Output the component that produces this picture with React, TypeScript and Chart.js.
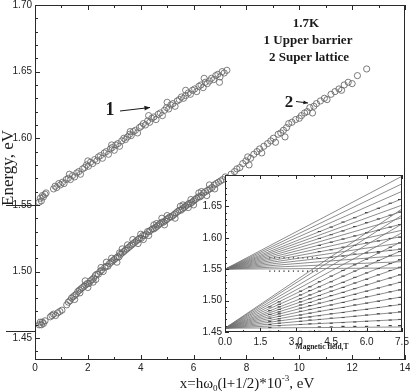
import React, { useEffect, useRef } from 'react';
import { Chart, registerables } from 'chart.js';

Chart.register(...registerables);

const SERIF = '"Liberation Serif", "Times New Roman", serif';
const SANS = '"Liberation Sans", Arial, sans-serif';

// ---------- main plot axes ----------
const mainXTicks = [0, 2, 4, 6, 8, 10, 12, 14];
const mainYTicks = [1.45, 1.5, 1.55, 1.6, 1.65, 1.7];
const mainXMin = 0;
const mainXMax = 14;
const mainYMin = 1.4336;
const mainYMax = 1.7;
const markedLevels = [1.55, 1.455];

// ---------- series 1: Upper barrier ----------
const upperX = [0.15, 0.2, 0.24, 0.28, 0.32, 0.38, 0.42, 0.7, 0.76, 0.82, 0.9, 0.96, 1.04, 1.1, 1.18, 1.26, 1.34, 1.42, 1.5, 1.58, 1.66, 1.72, 1.8, 1.88, 1.95, 2.02, 2.1, 2.18, 2.26, 2.34, 2.4, 2.48, 2.55, 2.62, 2.7, 2.78, 2.85, 2.92, 3.0, 3.06, 3.14, 3.2, 3.28, 3.36, 3.42, 3.5, 3.58, 3.64, 3.72, 3.8, 3.88, 3.95, 4.02, 4.1, 4.18, 4.26, 4.34, 4.42, 4.5, 4.58, 4.66, 4.74, 4.82, 4.9, 4.98, 5.06, 5.14, 5.22, 5.3, 5.38, 5.46, 5.54, 5.62, 5.7, 5.8, 5.88, 5.96, 6.04, 6.12, 6.2, 6.28, 6.36, 6.44, 6.52, 6.6, 6.68, 6.76, 6.84, 6.92, 7.0, 7.08, 7.16, 7.26,
  1.3, 2.0, 2.9, 3.6, 4.3, 5.0, 5.7, 6.4, 6.98];
const upperY = [1.552, 1.555, 1.553, 1.557, 1.556, 1.558, 1.559, 1.562, 1.564, 1.563, 1.566, 1.565, 1.567, 1.566, 1.569, 1.57, 1.569, 1.572, 1.571, 1.574, 1.575, 1.573, 1.577, 1.578, 1.58, 1.579, 1.582, 1.581, 1.584, 1.583, 1.586, 1.587, 1.585, 1.589, 1.59, 1.588, 1.592, 1.593, 1.591, 1.595, 1.596, 1.594, 1.598, 1.6, 1.599, 1.601, 1.603, 1.602, 1.605, 1.606, 1.604, 1.608, 1.609, 1.611, 1.61, 1.613, 1.612, 1.615, 1.616, 1.614, 1.618, 1.619, 1.617, 1.621, 1.623, 1.622, 1.625, 1.626, 1.624, 1.628, 1.629, 1.631, 1.63, 1.632, 1.634, 1.633, 1.636, 1.637, 1.635, 1.639, 1.64, 1.638, 1.642, 1.641, 1.643, 1.645, 1.644, 1.647, 1.648, 1.646, 1.65, 1.649, 1.651,
  1.573, 1.583, 1.595, 1.605, 1.617, 1.627, 1.636, 1.645, 1.642];

// ---------- series 2: Super lattice ----------
const slX = [0.16, 0.2, 0.24, 0.28, 0.32, 0.38, 0.58, 0.64, 0.7, 0.78, 0.86, 0.94, 1.02, 1.2, 1.26, 1.32, 1.38, 1.44, 1.5, 1.56, 1.62, 1.68, 1.74, 1.8, 1.86, 1.92, 1.98, 2.04, 2.1, 2.16, 2.22, 2.28, 2.34, 2.4, 2.46, 2.52, 2.58, 2.64, 2.7, 2.76, 2.82, 2.88, 2.94, 3.0, 3.06, 3.12, 3.18, 3.24, 3.3, 3.36, 3.42, 3.48, 3.54, 3.6, 3.66, 3.72, 3.78, 3.84, 3.9, 3.96, 4.02, 4.08, 4.14, 4.2, 4.26, 4.32, 4.38, 4.44, 4.5, 4.56, 4.62, 4.68, 4.74, 4.8, 4.86, 4.92, 4.98, 5.04, 5.1, 5.16, 5.22, 5.28, 5.34, 5.4, 5.46, 5.52, 5.58, 5.64, 5.7, 5.76, 5.82, 5.88, 5.94, 6.0, 6.06, 6.12, 6.18, 6.24, 6.3, 6.38, 6.46, 6.54, 6.62, 6.7, 6.78, 6.86, 6.94, 7.02, 7.1,
  2.5, 3.2, 3.9, 4.6, 5.3, 5.9, 6.5, 2.2, 3.5, 4.3, 5.0, 6.2, 6.8, 1.7, 2.9, 4.0, 5.6,
  1.9, 2.3, 2.7, 3.1, 3.7, 4.1, 4.5, 4.9, 5.5, 6.0, 6.6, 1.5, 2.0, 3.3, 4.8, 5.8, 6.3,
  7.2, 7.3, 7.42, 7.55, 7.64, 7.75, 7.86, 7.98, 8.05, 8.16, 8.28, 8.4, 8.5, 8.58, 8.66, 8.8, 8.92, 9.02, 9.1, 9.2, 9.3, 9.4, 9.52, 9.6, 9.72, 9.86, 10.0, 10.08, 10.2, 10.3, 10.4, 10.55, 10.65, 10.8, 10.95, 11.05, 11.2, 11.35, 11.5, 11.6, 11.7, 11.85, 12.0, 12.2, 12.55, 8.1, 9.46, 10.5];
const slY = [1.46, 1.462, 1.46, 1.462, 1.461, 1.463, 1.466, 1.467, 1.468, 1.467, 1.469, 1.47, 1.471, 1.475, 1.477, 1.478, 1.48, 1.481, 1.482, 1.483, 1.485, 1.486, 1.487, 1.488, 1.489, 1.49, 1.491, 1.491, 1.493, 1.494, 1.495, 1.497, 1.498, 1.498, 1.5, 1.501, 1.5, 1.503, 1.504, 1.504, 1.506, 1.507, 1.508, 1.509, 1.51, 1.511, 1.511, 1.513, 1.514, 1.515, 1.516, 1.517, 1.518, 1.519, 1.52, 1.521, 1.522, 1.523, 1.524, 1.525, 1.525, 1.527, 1.527, 1.528, 1.53, 1.53, 1.531, 1.532, 1.532, 1.533, 1.534, 1.535, 1.536, 1.537, 1.537, 1.538, 1.539, 1.54, 1.541, 1.541, 1.542, 1.543, 1.544, 1.545, 1.546, 1.546, 1.547, 1.548, 1.549, 1.55, 1.551, 1.551, 1.552, 1.553, 1.554, 1.555, 1.556, 1.556, 1.557, 1.559, 1.56, 1.561, 1.562, 1.563, 1.565, 1.566, 1.567, 1.568, 1.569,
  1.503, 1.514, 1.521, 1.536, 1.54, 1.554, 1.557, 1.492, 1.52, 1.527, 1.542, 1.559, 1.562, 1.484, 1.51, 1.528, 1.55,
  1.493, 1.494, 1.507, 1.507, 1.524, 1.524, 1.535, 1.535, 1.549, 1.55, 1.565, 1.479, 1.488, 1.517, 1.54, 1.548, 1.56,
  1.571, 1.57, 1.573, 1.575, 1.577, 1.578, 1.581, 1.583, 1.586, 1.585, 1.588, 1.59, 1.592, 1.589, 1.594, 1.596, 1.598, 1.6, 1.597, 1.603, 1.604, 1.606, 1.608, 1.611, 1.612, 1.614, 1.615, 1.617, 1.619, 1.62, 1.623, 1.624, 1.626, 1.628, 1.63, 1.629, 1.633, 1.635, 1.637, 1.636, 1.64, 1.642, 1.641, 1.647, 1.652, 1.58, 1.601, 1.619];

// ---------- inset ----------
const insetXTicks = [0, 1.5, 3, 4.5, 6, 7.5];
const insetYTicks = [1.45, 1.5, 1.55, 1.6, 1.65];
const insetXMin = 0;
const insetXMax = 7.5;
const insetYMin = 1.45;
const insetYMax = 1.7;
const upperFanOrigin = 1.55;
const upperFanEnds = [1.552, 1.562, 1.572, 1.582, 1.592, 1.602, 1.612, 1.622, 1.632, 1.642, 1.652, 1.662, 1.674, 1.686, 1.698];
const lowerFanOrigin = 1.456;
const lowerFanEnds = [1.458, 1.47, 1.482, 1.494, 1.506, 1.518, 1.53, 1.542, 1.554, 1.566, 1.58, 1.594, 1.608, 1.622, 1.636, 1.646];
const dotFields = [1.9, 2.3, 3.2, 3.6, 4.0, 4.5, 5.0, 5.5, 6.0, 6.5, 7.0, 7.4];
const dotEnergies = [
  [1.451, 1.457, 1.462, 1.467, 1.472, 1.478, 1.484, 1.49],
  [1.451, 1.46, 1.464, 1.468, 1.471, 1.475, 1.479, 1.482, 1.486, 1.49, 1.494, 1.498],
  [1.451, 1.462, 1.467, 1.472, 1.477, 1.483, 1.488, 1.493, 1.498, 1.503, 1.509, 1.515],
  [1.451, 1.463, 1.469, 1.474, 1.48, 1.486, 1.492, 1.497, 1.503, 1.509, 1.516, 1.522],
  [1.451, 1.458, 1.464, 1.47, 1.476, 1.483, 1.489, 1.496, 1.502, 1.508, 1.515, 1.522, 1.53, 1.567, 1.578, 1.588, 1.599, 1.61],
  [1.451, 1.458, 1.464, 1.472, 1.479, 1.486, 1.493, 1.5, 1.508, 1.515, 1.522, 1.53, 1.539, 1.569, 1.581, 1.593, 1.605, 1.617],
  [1.451, 1.459, 1.465, 1.473, 1.481, 1.489, 1.497, 1.505, 1.513, 1.521, 1.529, 1.539, 1.548, 1.571, 1.585, 1.598, 1.611, 1.625],
  [1.451, 1.459, 1.466, 1.475, 1.484, 1.493, 1.502, 1.51, 1.519, 1.528, 1.537, 1.547, 1.557, 1.574, 1.588, 1.603, 1.618, 1.632],
  [1.451, 1.459, 1.467, 1.477, 1.486, 1.496, 1.506, 1.515, 1.525, 1.534, 1.544, 1.555, 1.566, 1.576, 1.592, 1.608, 1.624, 1.64],
  [1.451, 1.46, 1.468, 1.479, 1.489, 1.499, 1.51, 1.52, 1.531, 1.541, 1.551, 1.564, 1.576, 1.578, 1.595, 1.612, 1.63, 1.647],
  [1.451, 1.46, 1.469, 1.48, 1.492, 1.503, 1.514, 1.525, 1.536, 1.548, 1.559, 1.572, 1.585, 1.58, 1.599, 1.617, 1.636, 1.655],
  [1.451, 1.46, 1.47, 1.482, 1.494, 1.505, 1.517, 1.529, 1.541, 1.553, 1.565, 1.578, 1.592, 1.582, 1.601, 1.621, 1.641, 1.661],
];
const rowFields = [1.9, 2.1, 2.3, 2.5, 2.7, 2.9, 3.1, 3.3, 3.5, 3.7, 3.9];
const rowLevels = [1.568, 1.547];

const pts = (xs: number[], ys: number[]) => xs.map((x, i) => ({ x, y: ys[i] }));

const inkDark = '#1a1a1a';

const mainDeco = {
  id: 'mainDeco',
  afterDraw(chart: any) {
    const { ctx, chartArea: a, scales } = chart;
    const xs = scales.x;
    const ys = scales.y;
    ctx.save();
    ctx.strokeStyle = '#2a2a2a';
    ctx.lineWidth = 1;
    ctx.strokeRect(a.left + 0.5, a.top + 0.5, a.right - a.left - 1, a.bottom - a.top - 1);
    ctx.beginPath();
    for (let k = Math.ceil(mainYMin * 100); k <= Math.round(mainYMax * 100); k++) {
      const major = k % 5 === 0;
      const py = Math.round(ys.getPixelForValue(k / 100)) + 0.5;
      ctx.moveTo(a.left, py);
      ctx.lineTo(a.left + (major ? 5 : 3), py);
    }
    for (let k = mainXMin; k <= mainXMax; k++) {
      const major = mainXTicks.includes(k);
      const px = Math.round(xs.getPixelForValue(k)) + 0.5;
      const len = major ? 5 : 3;
      ctx.moveTo(px, a.bottom);
      ctx.lineTo(px, a.bottom - len);
      ctx.moveTo(px, a.top);
      ctx.lineTo(px, a.top + len);
    }
    markedLevels.forEach((v) => {
      const py = Math.round(ys.getPixelForValue(v)) + 0.5;
      ctx.moveTo(6, py);
      ctx.lineTo(a.left, py);
    });
    ctx.stroke();

    ctx.fillStyle = inkDark;
    ctx.save();
    ctx.translate(9, 168);
    ctx.rotate(-Math.PI / 2);
    ctx.font = `17px ${SERIF}`;
    ctx.textAlign = 'center';
    ctx.textBaseline = 'middle';
    ctx.fillText('Energy, eV', 0, 0);
    ctx.restore();

    const parts: [string, string][] = [['x=hω', 'n'], ['0', 'sub'], ['(l+1/2)*10', 'n'], ['-3', 'sup'], [', eV', 'n']];
    const fontFor = (s: string) => (s === 'n' ? `15px ${SERIF}` : `9px ${SERIF}`);
    let total = 0;
    parts.forEach(([t, s]) => { ctx.font = fontFor(s); total += ctx.measureText(t).width; });
    let cx = 247 - total / 2;
    const base = 388;
    ctx.textAlign = 'left';
    ctx.textBaseline = 'alphabetic';
    parts.forEach(([t, s]) => {
      ctx.font = fontFor(s);
      const dy = s === 'sub' ? 3 : s === 'sup' ? -7 : 0;
      ctx.fillText(t, cx, base + dy);
      cx += ctx.measureText(t).width;
    });

    ctx.textAlign = 'center';
    ctx.textBaseline = 'middle';
    ctx.font = `bold 13px ${SERIF}`;
    ctx.fillText('1.7K', 306, 24);
    ctx.fillText('1 Upper barrier', 308, 41);
    ctx.fillText('2 Super lattice', 309, 58);

    ctx.font = `bold 18px ${SERIF}`;
    ctx.fillText('1', 110, 110);
    ctx.font = `bold 17px ${SERIF}`;
    ctx.fillText('2', 289, 103);

    const arrow = (x1: number, y1: number, x2: number, y2: number, head: number) => {
      ctx.beginPath();
      ctx.moveTo(x1, y1);
      ctx.lineTo(x2, y2);
      ctx.lineWidth = 1;
      ctx.strokeStyle = inkDark;
      ctx.stroke();
      const ang = Math.atan2(y2 - y1, x2 - x1);
      ctx.beginPath();
      ctx.moveTo(x2, y2);
      ctx.lineTo(x2 - head * Math.cos(ang - 0.4), y2 - head * Math.sin(ang - 0.4));
      ctx.lineTo(x2 - head * Math.cos(ang + 0.4), y2 - head * Math.sin(ang + 0.4));
      ctx.closePath();
      ctx.fill();
    };
    arrow(120, 111, 150, 107.5, 6);
    arrow(296, 101.5, 308, 103, 5);
    ctx.restore();
  },
};

const insetDeco = {
  id: 'insetDeco',
  beforeDraw(chart: any) {
    const { ctx, chartArea: a } = chart;
    ctx.save();
    ctx.fillStyle = '#ffffff';
    ctx.fillRect(a.left, a.top, a.right - a.left, a.bottom - a.top);
    ctx.restore();
  },
  afterDraw(chart: any) {
    const { ctx, chartArea: a, scales } = chart;
    const xs = scales.x;
    const ys = scales.y;
    ctx.save();
    ctx.strokeStyle = '#2a2a2a';
    ctx.lineWidth = 1;
    ctx.strokeRect(a.left + 0.5, a.top + 0.5, a.right - a.left - 1, a.bottom - a.top - 1);
    ctx.beginPath();
    for (let k = Math.round(insetYMin * 100); k <= Math.round(insetYMax * 100); k++) {
      const major = k % 5 === 0;
      const py = Math.round(ys.getPixelForValue(k / 100)) + 0.5;
      ctx.moveTo(a.left, py);
      ctx.lineTo(a.left + (major ? 4 : 2), py);
    }
    for (let k = 0; k <= 10; k++) {
      const v = k * 0.75;
      const major = k % 2 === 0;
      const px = Math.round(xs.getPixelForValue(v)) + 0.5;
      const len = major ? 4 : 2;
      ctx.moveTo(px, a.top);
      ctx.lineTo(px, a.top + len);
      ctx.moveTo(px, a.bottom);
      ctx.lineTo(px, a.bottom - len);
    }
    ctx.stroke();
    ctx.fillStyle = inkDark;
    ctx.font = `bold 7.5px ${SERIF}`;
    ctx.textAlign = 'center';
    ctx.textBaseline = 'middle';
    ctx.fillText('Magnetic field,T', 322 - 190, 347 - 168);
    ctx.restore();
  },
};

function MainChart() {
  const ref = useRef<HTMLCanvasElement>(null);
  useEffect(() => {
    if (!ref.current) return;
    const circle = {
      pointStyle: 'circle',
      pointRadius: 3.1,
      borderWidth: 1,
      backgroundColor: 'rgba(0,0,0,0)',
      showLine: false,
    };
    const chart = new Chart(ref.current, {
      type: 'scatter',
      data: {
        datasets: [
          { label: '1 Upper barrier', data: pts(upperX, upperY), borderColor: 'rgba(105,105,105,0.85)', ...circle },
          { label: '2 Super lattice', data: pts(slX, slY), borderColor: 'rgba(100,100,100,0.85)', ...circle },
        ],
      },
      options: {
        responsive: false,
        animation: false,
        devicePixelRatio: 1,
        layout: { padding: { left: 0, right: 5, top: 3, bottom: 0 } },
        plugins: { legend: { display: false }, tooltip: { enabled: false } },
        scales: {
          x: {
            type: 'linear',
            min: mainXMin,
            max: mainXMax,
            grid: { display: false, drawTicks: false },
            border: { display: false },
            afterBuildTicks: (ax: any) => { ax.ticks = mainXTicks.map((v) => ({ value: v })); },
            ticks: { font: { family: SANS, size: 10 }, color: '#222', padding: 2, maxRotation: 0, autoSkip: false, callback: (v: any) => String(v) },
            afterFit: (s: any) => { s.height = 32; s.paddingLeft = 0; s.paddingRight = 0; },
          },
          y: {
            type: 'linear',
            min: mainYMin,
            max: mainYMax,
            grid: { display: false, drawTicks: false },
            border: { display: false },
            afterBuildTicks: (ax: any) => { ax.ticks = mainYTicks.map((v) => ({ value: v })); },
            ticks: { font: { family: SANS, size: 10 }, color: '#222', padding: 3, autoSkip: false, callback: (v: any) => Number(v).toFixed(2) },
            afterFit: (s: any) => { s.width = 35; s.paddingTop = 0; s.paddingBottom = 0; },
          },
        },
      },
      plugins: [mainDeco],
    } as any);
    return () => chart.destroy();
  }, []);
  return <canvas ref={ref} width={410} height={392} style={{ position: 'absolute', left: 0, top: 0 }} />;
}

function InsetChart() {
  const ref = useRef<HTMLCanvasElement>(null);
  useEffect(() => {
    if (!ref.current) return;
    const fanLine = (o: number, e: number) => ({
      data: [{ x: insetXMin, y: o }, { x: insetXMax, y: e }],
      showLine: true,
      borderColor: '#707070',
      borderWidth: 0.8,
      pointRadius: 0,
    });
    const dotPts: { x: number; y: number }[] = [];
    dotFields.forEach((b, i) => dotEnergies[i].forEach((e) => dotPts.push({ x: b, y: e })));
    const rowPts: { x: number; y: number }[] = [];
    rowLevels.forEach((e) => rowFields.forEach((b) => rowPts.push({ x: b, y: e })));
    const chart = new Chart(ref.current, {
      type: 'scatter',
      data: {
        datasets: [
          ...upperFanEnds.map((e) => fanLine(upperFanOrigin, e)),
          ...lowerFanEnds.map((e) => fanLine(lowerFanOrigin, e)),
          { data: dotPts, pointStyle: 'line', pointRadius: 1.6, borderWidth: 1, borderColor: '#111', showLine: false },
          { data: rowPts, pointStyle: 'rect', pointRadius: 0.8, borderWidth: 0, backgroundColor: '#111', showLine: false },
        ],
      },
      options: {
        responsive: false,
        animation: false,
        devicePixelRatio: 1,
        layout: { padding: { left: 0, right: 8, top: 7, bottom: 0 } },
        plugins: { legend: { display: false }, tooltip: { enabled: false } },
        scales: {
          x: {
            type: 'linear',
            min: insetXMin,
            max: insetXMax,
            grid: { display: false, drawTicks: false },
            border: { display: false },
            afterBuildTicks: (ax: any) => { ax.ticks = insetXTicks.map((v) => ({ value: v })); },
            ticks: { font: { family: SANS, size: 10 }, color: '#222', padding: 4, maxRotation: 0, autoSkip: false, callback: (v: any) => Number(v).toFixed(1) },
            afterFit: (s: any) => { s.height = 22; s.paddingLeft = 0; s.paddingRight = 0; },
          },
          y: {
            type: 'linear',
            min: insetYMin,
            max: insetYMax,
            grid: { display: false, drawTicks: false },
            border: { display: false },
            afterBuildTicks: (ax: any) => { ax.ticks = insetYTicks.map((v) => ({ value: v })); },
            ticks: { font: { family: SANS, size: 10 }, color: '#222', padding: 3, autoSkip: false, callback: (v: any) => Number(v).toFixed(2) },
            afterFit: (s: any) => { s.width = 35; s.paddingTop = 0; s.paddingBottom = 0; },
          },
        },
      },
      plugins: [insetDeco],
    } as any);
    return () => chart.destroy();
  }, []);
  return <canvas ref={ref} width={220} height={186} style={{ position: 'absolute', left: 190, top: 168 }} />;
}

export default function App() {
  return (
    <div style={{ position: 'fixed', left: 0, top: 0, width: 410, height: 392, background: '#fff', overflow: 'hidden' }}>
      <MainChart />
      <InsetChart />
    </div>
  );
}
